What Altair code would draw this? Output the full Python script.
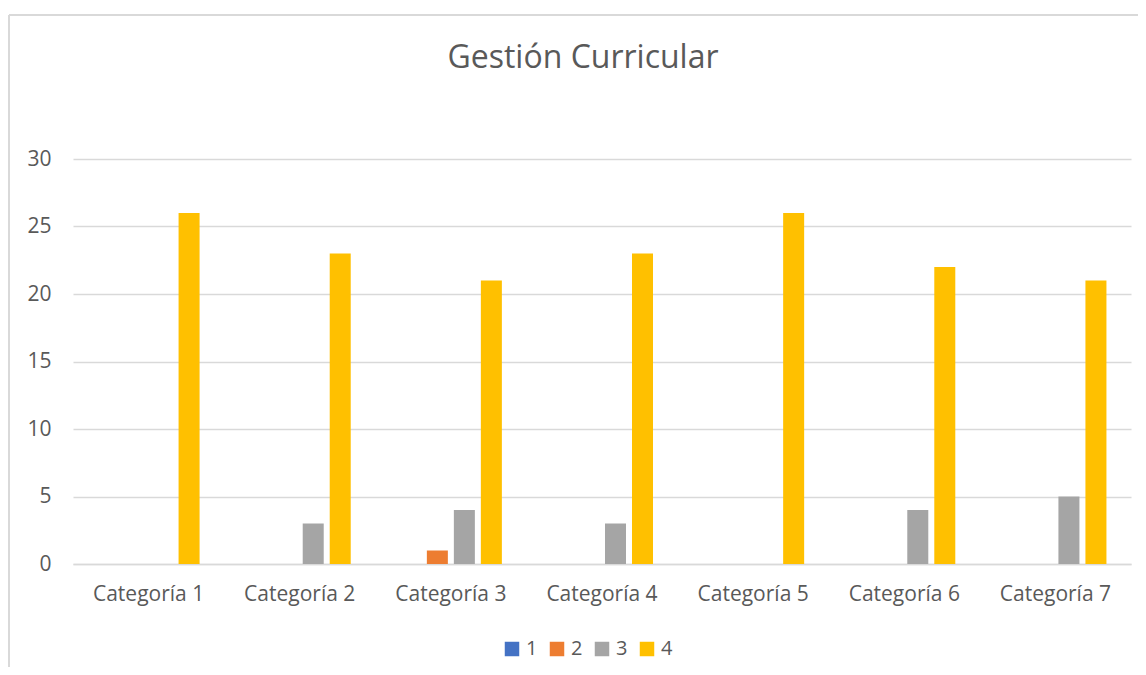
import altair as alt
import pandas as pd

categories = ["Categoría 1", "Categoría 2", "Categoría 3", "Categoría 4",
              "Categoría 5", "Categoría 6", "Categoría 7"]
series_names = ["1", "2", "3", "4"]
s1 = [0, 0, 0, 0, 0, 0, 0]
s2 = [0, 0, 1, 0, 0, 0, 0]
s3 = [0, 3, 4, 3, 0, 4, 5]
s4 = [26, 23, 21, 23, 26, 22, 21]
colors = ["#4472C4", "#ED7D31", "#A5A5A5", "#FFC000"]
title_text = "Gestión Curricular"

rows = []
for name, vals in zip(series_names, [s1, s2, s3, s4]):
    for c, v in zip(categories, vals):
        rows.append({"Categoría": c, "Serie": name, "Valor": v})
df = pd.DataFrame(rows)

FONT = "Open Sans"
TXT = "#595959"

bars = alt.Chart(df).mark_bar().encode(
    x=alt.X("Categoría:N", sort=categories,
            scale=alt.Scale(paddingInner=0.325, paddingOuter=0.1625),
            axis=alt.Axis(title=None, labelAngle=0, labelFontSize=21,
                          labelColor=TXT, labelFont=FONT, labelPadding=19,
                          ticks=False, domainColor="#D9D9D9", domainWidth=1.5,
                          grid=False)),
    xOffset=alt.XOffset("Serie:N", sort=series_names,
                        scale=alt.Scale(paddingInner=0.222, paddingOuter=0)),
    y=alt.Y("Valor:Q", scale=alt.Scale(domain=[0, 30]),
            axis=alt.Axis(title=None, values=[0, 5, 10, 15, 20, 25, 30],
                          labelFontSize=21, labelColor=TXT, labelFont=FONT,
                          labelPadding=22, ticks=False, domain=False,
                          gridColor="#D9D9D9", gridWidth=1.5)),
    color=alt.Color("Serie:N", sort=series_names,
                    scale=alt.Scale(domain=series_names, range=colors),
                    legend=alt.Legend(title=None, orient="none", direction="horizontal",
                                      legendX=429, legendY=480,
                                      symbolType="square", symbolSize=210,
                                      symbolStrokeWidth=0,
                                      labelFontSize=20, labelColor=TXT, labelFont=FONT,
                                      labelOffset=4, columnPadding=9)),
)

frame_left = alt.Chart(df).mark_rule(color="#D9D9D9", strokeWidth=1.5).encode(
    x=alt.value(-64), y=alt.value(-144), y2=alt.value(520))
frame_top = alt.Chart(df).mark_rule(color="#D9D9D9", strokeWidth=1.5).encode(
    x=alt.value(-64), x2=alt.value(1070), y=alt.value(-144))

title = alt.Chart(pd.DataFrame({"t": [title_text]})).mark_text(
    font=FONT, fontSize=32, color=TXT, align="center", baseline="middle"
).encode(text="t:N", x=alt.value(510), y=alt.value(-101))

chart = alt.layer(frame_left, frame_top, bars, title).properties(
    width=1058, height=405,
    autosize=alt.AutoSizeParams(type="none"),
    padding={"left": 65, "top": 151, "right": 7, "bottom": 103},
).configure_view(stroke=None)

chart.save("out.html", embed_options={"renderer": "svg", "actions": False})
